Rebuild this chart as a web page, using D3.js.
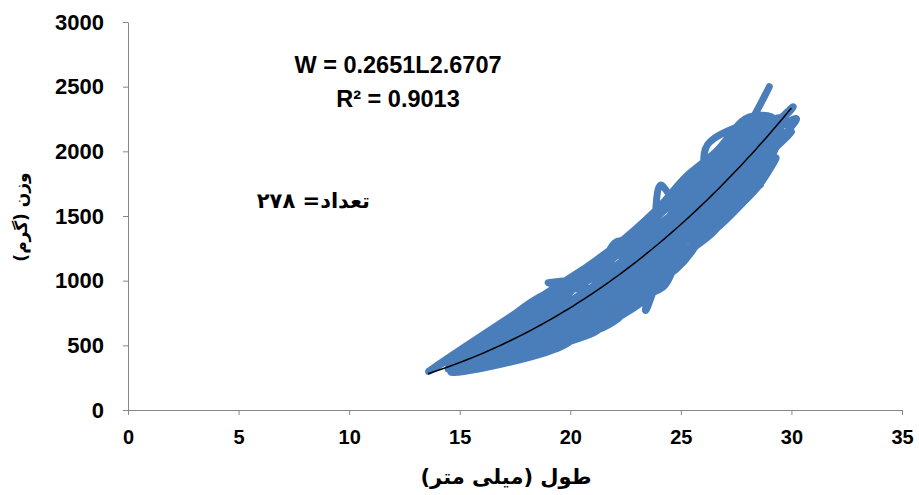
<!DOCTYPE html>
<html>
<head>
<meta charset="utf-8">
<script src="https://cdn.jsdelivr.net/npm/d3@7"></script>
<style>
  body { margin: 0; background: #fff; }
  svg { display: block; }
  .tick text { font-family: "Liberation Sans", Arial, sans-serif; font-weight: bold; fill: #000; }
  .axis path, .axis line { stroke: #868686; }
</style>
</head>
<body>
<svg width="919" height="495"></svg>
<script>
// length (mm) / weight (g) as they appear along the series (unsorted)
var lengthMm = [29.0, 26.8, 22.5, 24.0, 19.5, 26.0, 21.0, 23.5, 25.5, 20.0, 18.0, 22.0, 27.0, 21.2, 13.6, 22.8,
  21.5, 23.0, 25.0, 20.5, 19.0, 24.2, 26.5, 26.0, 24.8, 22.2, 21.0, 23.3, 25.8, 27.5, 28.0, 30.0,
  29.5, 27.8, 26.2, 24.5, 22.5, 20.0, 14.6, 19.6, 21.5, 23.0, 25.0, 26.8, 28.6, 27.0, 25.5, 23.8,
  22.0, 20.8, 19.0, 21.2, 23.5, 24.0, 24.6, 26.0, 27.2, 28.5, 30.0, 28.8, 27.0, 25.5, 23.5, 23.8,
  24.8, 26.3, 25.2, 22.6, 21.8, 20.2, 18.5, 17.0, 16.0, 15.2, 17.5, 19.2, 21.0, 22.3, 23.0, 24.3,
  25.8, 26.5, 27.5, 28.3, 29.0, 28.0, 26.8, 25.0, 23.3, 21.8, 20.3, 19.8, 18.2, 16.5, 15.0, 16.8,
  18.8, 20.5, 22.0, 23.7, 25.3, 26.0, 27.3, 28.2, 29.2, 27.6, 25.9, 24.3, 22.9, 21.3, 20.0, 18.6,
  17.3, 19.5, 21.0, 22.4, 24.0, 25.6, 26.7, 28.0, 29.5, 27.9, 26.4, 24.9, 23.2, 21.7, 20.2, 18.0,
  16.3, 14.5, 17.8, 20.6, 22.7, 24.1, 25.4, 26.9, 28.4, 29.5, 28.7, 27.1, 25.7, 24.6, 23.1, 21.9,
  20.7, 19.3, 17.6, 15.8, 16.9, 18.4, 19.9, 21.4, 22.8, 24.4, 25.1, 26.1, 27.4, 28.9, 27.7, 26.2,
  25.9, 24.7, 23.4, 21.6, 20.4, 19.4, 21.1, 22.5, 24.2, 25.0, 26.6, 27.8, 28.6, 29.3, 28.1, 26.4,
  24.9, 23.6, 22.1, 20.9, 19.7, 18.9, 17.2, 15.5, 18.3, 20.1, 21.5, 23.0, 24.5, 26.0, 27.6, 29.0,
  29.6, 19.5, 16.2, 18.8, 21.3, 17.4, 15.6, 19.0, 22.2, 20.6, 18.2, 16.8, 19.9, 22.8, 24.4, 21.6,
  17.9, 15.3, 20.3, 23.3, 25.6, 27.2, 28.8, 26.7, 24.6, 22.0, 19.7, 17.1, 14.9, 18.7, 21.9, 23.9,
  25.2, 26.6, 27.9, 29.2, 28.2, 26.9, 25.3, 23.7, 22.4, 20.9, 19.2, 17.7, 16.4, 18.1, 20.8, 22.9,
  24.7, 26.3, 27.9, 29.1, 27.4, 25.6, 24.0, 22.7, 21.2, 19.6, 18.4, 16.6, 18.9, 21.4, 23.4, 24.9,
  26.1, 27.3, 28.5, 29.5, 28.4, 26.9, 25.4, 24.2, 23.0, 21.8, 20.5, 19.1, 17.8, 16.1, 17.0, 18.6,
  20.1, 21.7, 23.6, 25.0, 26.5, 27.7, 28.9, 29.6];
var weightG = [2500, 1880, 1180, 1350, 720, 1650, 950, 1100, 1550, 820, 600, 1050, 1800, 1100, 300, 1320,
  1000, 1250, 1300, 900, 650, 1200, 1750, 1900, 1500, 900, 780, 1050, 1400, 1850, 2000, 2335,
  2250, 2150, 1800, 1300, 950, 700, 295, 490, 850, 1000, 1400, 1600, 1740, 1700, 1350, 1150,
  1200, 1000, 985, 1050, 1300, 1720, 1650, 1500, 1650, 1900, 2150, 2050, 1950, 1700, 800, 1000,
  1250, 1450, 1200, 1100, 900, 850, 720, 560, 450, 380, 480, 560, 700, 800, 880, 1100,
  1300, 1550, 1700, 1850, 2200, 2250, 2000, 1750, 1400, 1150, 960, 880, 700, 520, 400, 450,
  580, 700, 1290, 1200, 1600, 1380, 1550, 1750, 2050, 2000, 1850, 1550, 1350, 1100, 950, 800,
  650, 780, 850, 1000, 1000, 1250, 1700, 1800, 2100, 2100, 1950, 1600, 1200, 1000, 750, 520,
  420, 330, 760, 1050, 1250, 1400, 1500, 1850, 2150, 2250, 1950, 1600, 1450, 1150, 950, 780,
  650, 600, 550, 480, 620, 650, 620, 750, 900, 1350, 1650, 1600, 1900, 2250, 2200, 2050,
  1750, 1350, 1250, 1200, 1000, 850, 800, 850, 950, 1200, 1400, 1600, 1750, 1950, 1700, 1550,
  1400, 1300, 1100, 1050, 950, 750, 500, 420, 560, 680, 680, 1100, 1250, 1450, 1750, 2000,
  2200, 940, 400, 470, 640, 690, 350, 520, 720, 600, 800, 380, 530, 780, 1030, 680,
  430, 330, 580, 850, 1290, 1600, 1850, 1530, 1100, 760, 620, 460, 360, 860, 1250, 1550,
  1800, 2000, 2250, 2250, 2050, 1650, 1350, 1050, 880, 740, 700, 600, 500, 680, 880, 1050,
  1300, 1700, 1900, 2150, 1750, 1550, 1280, 1000, 870, 800, 560, 590, 900, 960, 1150, 1450,
  1750, 2050, 2200, 2150, 2000, 1750, 1450, 1250, 1150, 1000, 800, 760, 650, 520, 420, 620,
  740, 820, 950, 1180, 1380, 1650, 1900, 2150];

var xTicks = [0, 5, 10, 15, 20, 25, 30, 35];
var yTicks = [0, 500, 1000, 1500, 2000, 2500, 3000];

// power trendline W = a * L^b
var trendA = 0.2651, trendB = 2.6707;
var trendFrom = 13.57, trendTo = 30;

var svg = d3.select("svg");

var x = d3.scaleLinear().domain([0, 35]).range([128, 902]);
var y = d3.scaleLinear().domain([0, 3000]).range([410, 22]);

svg.append("g")
  .attr("class", "axis")
  .attr("transform", "translate(0,410)")
  .call(d3.axisBottom(x).tickValues(xTicks).tickFormat(d3.format("d")).tickSize(5).tickSizeOuter(0).tickPadding(15))
  .selectAll("text").style("font-size", "20px");

svg.append("g")
  .attr("class", "axis")
  .attr("transform", "translate(128,0)")
  .call(d3.axisLeft(y).tickValues(yTicks).tickFormat(d3.format("d")).tickSize(5).tickSizeOuter(0).tickPadding(19))
  .selectAll("text").style("font-size", "22px");

var pts = lengthMm.map(function(d, i) { return [d, weightG[i]]; });

var line = d3.line()
  .x(function(d) { return x(d[0]); })
  .y(function(d) { return y(d[1]); })
  .curve(d3.curveCardinal.tension(0));

svg.append("path")
  .datum(pts)
  .attr("fill", "none")
  .attr("stroke", "#4a7ebb")
  .attr("stroke-width", 7)
  .attr("stroke-linejoin", "round")
  .attr("stroke-linecap", "round")
  .attr("d", line);

var trend = d3.range(0, 101).map(function(i) {
  var L = trendFrom + (trendTo - trendFrom) * i / 100;
  return [L, trendA * Math.pow(L, trendB)];
});

svg.append("path")
  .datum(trend)
  .attr("fill", "none")
  .attr("stroke", "#000")
  .attr("stroke-width", 1.5)
  .attr("d", d3.line().x(function(d) { return x(d[0]); }).y(function(d) { return y(d[1]); }));

// equation labels
svg.append("text")
  .attr("x", 398).attr("y", 73)
  .attr("text-anchor", "middle")
  .style("font-family", "Liberation Sans, Arial, sans-serif")
  .style("font-weight", "bold")
  .style("font-size", "23.5px")
  .text("W = 0.2651L2.6707");

svg.append("text")
  .attr("x", 398).attr("y", 107)
  .attr("text-anchor", "middle")
  .style("font-family", "Liberation Sans, Arial, sans-serif")
  .style("font-weight", "bold")
  .style("font-size", "23.5px")
  .text("R² = 0.9013");

svg.append("text")
  .attr("x", 370).attr("y", 208)
  .attr("text-anchor", "start")
  .attr("direction", "rtl")
  .style("font-family", "DejaVu Sans, sans-serif")
  .style("font-weight", "bold")
  .style("font-size", "21px")
  .text("تعداد= ۲۷۸");

// axis titles
svg.append("text")
  .attr("x", 506).attr("y", 484)
  .attr("text-anchor", "middle")
  .attr("direction", "rtl")
  .style("font-family", "DejaVu Sans, sans-serif")
  .style("font-weight", "bold")
  .style("font-size", "21px")
  .text("طول (میلی متر)");

svg.append("text")
  .attr("transform", "translate(27,217) rotate(-90)")
  .attr("text-anchor", "middle")
  .attr("direction", "rtl")
  .style("font-family", "DejaVu Sans, sans-serif")
  .style("font-weight", "bold")
  .style("font-size", "17px")
  .text("وزن (گرم)");
</script>
</body>
</html>
